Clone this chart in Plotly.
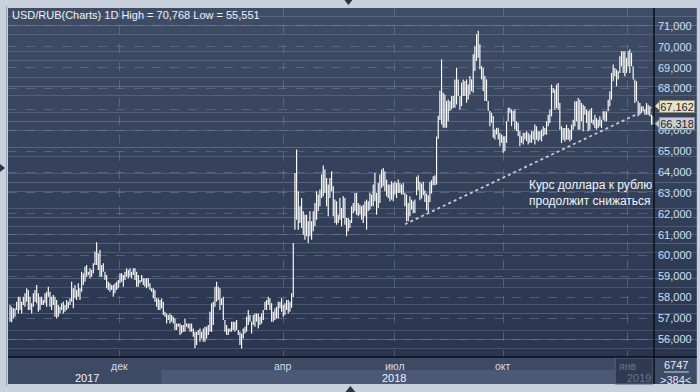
import plotly.graph_objects as go

# ---------------- data ----------------
high = [
    57.63,57.55,57.47,57.47,57.79,58.03,58.03,57.79,58.03,58.19,
    58.43,58.35,58.03,57.71,58.19,58.35,58.59,58.19,58.03,58.03,
    57.87,58.19,58.27,58.51,58.27,58.03,58.11,58.03,57.87,57.63,
    57.55,57.71,57.79,57.63,57.87,57.79,57.95,58.75,58.43,58.59,
    58.35,58.67,58.43,59.23,59.15,59.47,59.55,59.23,59.39,59.31,
    59.63,60.19,60.64,60.11,60.27,59.55,59.63,59.23,59.07,58.75,
    58.67,58.59,58.59,58.67,58.75,58.83,59.15,59.15,59.07,59.23,
    59.39,59.31,59.39,59.23,59.39,
    59.39,59.23,59.07,58.83,59.07,58.91,58.91,58.91,58.91,58.67,
    58.43,58.43,58.35,57.95,57.95,57.87,57.95,57.79,57.31,57.23,
    57.15,57.23,57.15,57.07,56.99,56.75,56.75,56.75,56.67,56.67,
    56.99,56.75,56.75,56.75,56.75,56.51,56.35,56.35,56.43,56.51,
    56.35,56.51,56.59,56.59,56.67,57.31,57.71,57.79,58.51,58.75,
    58.51,58.43,57.95,58.03,56.91,56.67,56.51,56.51,56.83,56.83,
    56.83,56.91,56.43,56.35,56.27,56.51,56.59,57.07,57.39,57.15,
    56.83,57.15,57.23,57.23,57.23,57.07,57.23,57.39,57.79,57.87,
    58.03,57.95,57.71,57.31,57.47,57.55,57.79,57.79,57.95,57.63,
    57.71,57.87,57.87,57.79,58.20,60.60,
    63.96,65.08,63.08,62.36,62.76,62.12,61.96,61.96,61.64,62.12,
    61.64,62.12,62.52,63.08,62.92,63.16,63.88,64.31,64.12,63.72,
    63.40,63.72,64.04,63.32,62.68,62.60,61.96,62.76,62.28,62.84,
    62.76,61.80,61.80,61.72,62.36,62.52,63.00,63.00,62.52,62.44,
    62.36,62.44,62.60,62.68,62.60,63.00,62.92,63.40,63.96,63.00,
    63.48,63.88,64.12,64.20,64.04,63.64,63.40,63.40,63.56,63.48,
    63.56,63.48,63.64,63.48,63.40,63.48,63.00,62.92,62.52,62.84,
    62.68,62.60,62.68,
    63.77,63.85,63.53,63.45,63.53,63.13,62.97,62.89,63.53,63.61,
    63.80,63.85,65.70,66.70,67.90,
    69.40,67.80,67.72,67.40,67.48,67.40,67.64,67.64,68.44,69.00,
    68.44,67.64,68.28,68.44,68.36,68.44,68.20,68.60,68.44,69.64,
    70.04,70.60,70.77,70.12,69.08,69.00,68.60,68.44,67.40,66.92,
    66.84,66.68,66.04,66.12,66.12,65.88,65.80,65.72,65.72,66.44,
    67.08,67.08,67.00,66.92,67.00,66.44,66.36,65.96,65.72,65.88,
    65.88,65.96,65.88,65.80,65.96,65.96,66.28,
    66.19,65.95,65.95,66.03,66.19,66.11,66.43,66.75,66.99,68.19,
    68.03,67.95,68.19,68.27,67.31,66.19,66.11,66.11,66.27,66.11,
    66.03,66.27,66.51,67.39,67.39,67.55,67.47,67.31,67.23,67.15,
    66.99,66.91,66.99,67.07,66.51,66.75,66.59,66.51,66.67,66.51,
    66.91,66.91,66.91,67.47,67.87,68.75,69.15,68.99,68.91,68.83,
    69.55,69.79,69.79,69.79,69.47,69.79,69.87,69.71,69.07,68.43,
    68.35,67.39,67.31,67.15,67.15,66.99,67.31,67.23,67.15,66.75,66.67,
]
low = [
    56.83,56.80,56.99,57.07,57.39,57.23,57.39,57.23,57.63,57.55,
    57.79,57.39,57.39,57.23,57.55,57.79,57.71,57.31,57.39,57.63,
    57.63,57.71,57.55,58.03,57.55,57.39,57.63,57.07,56.99,57.07,
    57.23,57.39,57.23,57.31,57.39,57.47,57.63,57.79,57.47,57.95,
    57.87,58.03,57.87,58.27,58.59,58.75,58.99,59.07,58.91,58.99,
    59.15,59.55,59.55,59.31,58.99,58.99,59.23,58.83,58.43,58.35,
    58.27,58.35,58.03,58.19,58.35,58.43,58.67,58.75,58.51,58.83,
    58.99,58.91,58.99,58.91,59.07,
    58.83,58.51,58.51,58.67,58.75,58.59,58.51,58.43,58.51,58.35,
    58.27,57.95,57.79,57.55,57.39,57.39,57.47,57.15,57.07,56.75,
    56.91,56.75,56.83,56.75,56.43,56.43,56.59,56.19,56.27,56.35,
    56.35,56.59,56.51,56.35,56.35,56.11,55.56,55.71,56.19,55.87,
    56.03,55.87,55.87,56.03,56.19,56.35,56.35,56.67,57.55,57.79,
    57.87,57.39,57.63,56.91,56.35,56.19,56.19,56.35,56.35,56.43,
    56.35,56.43,56.19,55.71,55.55,56.03,56.27,56.35,56.67,56.83,
    56.27,56.67,56.59,56.83,56.51,56.67,56.75,56.91,57.39,57.39,
    57.63,57.39,56.83,56.83,56.91,56.99,56.99,57.47,57.31,57.07,
    57.15,57.39,57.23,57.31,57.50,58.00,
    61.24,61.72,61.24,61.56,61.32,61.00,60.76,60.92,60.60,60.92,
    60.76,61.16,61.40,61.72,62.12,62.36,62.76,62.84,63.00,62.36,
    61.88,62.76,63.08,61.88,61.56,61.48,61.56,61.72,61.40,61.80,
    61.48,60.92,61.16,61.32,61.56,62.04,62.12,61.96,61.88,61.96,
    61.72,61.56,61.88,61.24,62.12,62.20,62.36,62.36,62.60,61.96,
    62.28,62.52,63.24,63.32,63.08,62.84,62.76,62.60,62.68,62.60,
    62.92,62.76,63.00,63.00,62.92,62.92,62.36,61.64,61.64,61.88,
    62.20,62.04,62.04,
    62.89,63.13,62.65,62.73,62.89,62.57,62.17,62.09,62.57,62.97,
    63.37,63.37,63.40,65.60,66.50,
    66.28,66.12,66.12,66.12,66.44,66.92,67.00,67.08,67.08,67.24,
    67.64,67.00,67.16,67.64,67.64,67.32,67.48,67.72,67.88,67.80,
    68.84,69.32,69.48,68.92,68.44,67.88,67.40,67.40,66.92,66.20,
    66.36,65.64,65.56,65.80,65.56,65.24,65.40,64.92,65.00,65.40,
    66.44,66.84,66.20,66.44,66.04,65.96,65.72,65.24,65.40,65.32,
    65.56,65.48,65.32,65.40,65.40,65.56,65.32,
    65.55,65.47,65.55,65.47,65.71,65.79,65.79,66.19,66.35,66.67,
    67.79,66.99,67.07,66.99,66.03,65.39,65.55,65.47,65.55,65.55,
    65.47,65.55,66.03,66.19,66.43,66.03,66.03,66.43,65.95,66.75,
    66.35,65.95,66.03,66.35,66.27,66.11,66.03,66.11,66.19,66.11,
    66.51,66.43,66.43,66.91,67.15,67.47,68.35,68.59,68.11,68.43,
    68.75,69.07,68.75,68.59,68.75,69.07,68.75,69.07,68.43,67.31,
    67.39,66.67,66.75,66.83,66.91,66.75,66.75,66.75,66.67,66.27,66.27,
]
bar_index = list(range(len(high)))

month_labels = ["дек", "апр", "июл", "окт", "янв"]
month_pos = [66.0, 164.0, 231.0, 296.0, 370.4]
year_labels = ["2017", "2018", "2019"]
year_pos = [46.0, 230.6, 377.5]

y_ticks = [56, 57, 58, 59, 60, 61, 62, 63, 64, 65, 66, 67, 68, 69, 70, 71]
# the 67,000 label sits fully under the 67,162 price box in the reference
y_ticktext = ["" if v == 67 else "%d,000" % v for v in y_ticks]

trend_x = [237.0, 386.5]
trend_y = [61.5, 67.162]

last_trend_value = 67.162
last_close_value = 66.318

title_text = "USD/RUB(Charts) 1D High = 70,768 Low = 55,551"
note_text = "Курс доллара к рублю<br>продолжит снижаться"
bar_count_text = "6747"
bar_range_text = "&gt;384&lt;"

# ---------------- layout helpers ----------------
W, H = 700, 392
ML, MR, MT, MB = 8, 43, 8, 35
PW, PH = W - ML - MR, H - MT - MB
Y_RANGE = [55.14, 71.86]
X_RANGE = [-1.2, 386.5]
FONT = "Liberation Sans, Arial, sans-serif"


def px(x):
    return (x - ML) / PW


def py(y):
    return (H - MB - y) / PH


shapes = []
top_c = (63, 76, 102)
bot_c = (42, 54, 80)
N = 40
for i in range(N):
    t = i / (N - 1)
    c = tuple(round(top_c[j] + (bot_c[j] - top_c[j]) * t) for j in range(3))
    y1 = 1 - i / N
    y0 = 1 - (i + 1) / N
    shapes.append(dict(type="rect", xref="paper", yref="paper", x0=0, x1=px(W),
                       y0=y0, y1=y1, fillcolor="rgb(%d,%d,%d)" % c,
                       line=dict(width=0), layer="below"))
shapes.append(dict(type="rect", xref="paper", yref="paper", x0=0, x1=px(W),
                   y0=py(384), y1=py(357), fillcolor="#3d4a64", line=dict(width=0), layer="below"))
shapes.append(dict(type="rect", xref="paper", yref="paper", x0=px(162), x1=px(618),
                   y0=py(384), y1=py(370), fillcolor="#4b5976", line=dict(width=0), layer="below"))
shapes.append(dict(type="rect", xref="paper", yref="paper", x0=px(618), x1=px(656),
                   y0=py(384), y1=py(358), fillcolor="#2f3a52",
                   line=dict(color="#56647e", width=1), layer="below"))
shapes.append(dict(type="line", xref="paper", yref="paper", x0=0, x1=px(W), y0=0, y1=0,
                   line=dict(color="#0c0f16", width=1.5), layer="above"))
shapes.append(dict(type="line", xref="paper", yref="paper", x0=1, x1=1, y0=py(384), y1=1,
                   line=dict(color="#0c0f16", width=1.5), layer="above"))
shapes.append(dict(type="line", xref="paper", yref="paper", x0=px(667), x1=px(692),
                   y0=py(372), y1=py(372), line=dict(color="#c8d2e0", width=1), layer="above"))


def tri(pts):
    d = "M %f,%f L %f,%f L %f,%f Z" % tuple(v for p in pts for v in (px(p[0]), py(p[1])))
    return dict(type="path", xref="paper", yref="paper", path=d, fillcolor="#2a3344",
                line=dict(width=0), layer="above")


shapes.append(tri([(346, 0), (354, 0), (350, 5)]))
shapes.append(tri([(0, 164), (0, 172), (5, 168)]))
shapes.append(tri([(347, 392), (357, 392), (352, 386)]))
shapes.append(dict(type="line", xref="paper", yref="paper", x0=px(6.5), x1=px(6.5), y0=py(386), y1=py(6),
                   line=dict(color="#9aa4b2", width=1), layer="below"))


def pointer(val, fill, edge):
    h = 5.5 / (PH / (Y_RANGE[1] - Y_RANGE[0]))
    d = "M %f,%f L %f,%f L %f,%f Z" % (px(658), val, px(663.5), val + h, px(663.5), val - h)
    return dict(type="path", xref="paper", yref="y", path=d, fillcolor=fill,
                line=dict(color=edge, width=1), layer="above")


shapes.append(pointer(last_close_value, "#c9cdd3", "#8a909a"))
shapes.append(pointer(last_trend_value, "#e6e2c6", "#908e7c"))

annotations = []
annotations.append(dict(text=title_text, xref="paper", yref="paper", x=px(10), y=py(15),
                        xanchor="left", yanchor="middle", showarrow=False,
                        font=dict(family=FONT, size=11, color="#eef2f8")))
annotations.append(dict(text=note_text, xref="paper", yref="paper", x=px(529), y=py(193.5),
                        xanchor="left", yanchor="middle", align="left", showarrow=False,
                        font=dict(family=FONT, size=12, color="#f2f4f8")))
for lab, pos in zip(month_labels, month_pos):
    col = "#66758f" if lab == "янв" else "#d3dceb"
    annotations.append(dict(text=lab, xref="x", yref="paper", x=pos, y=py(365.5),
                            xanchor="center", yanchor="middle", showarrow=False,
                            font=dict(family=FONT, size=10.5, color=col)))
for lab, pos in zip(year_labels, year_pos):
    col = "#66758f" if lab == "2019" else "#eef2f8"
    annotations.append(dict(text=lab, xref="x", yref="paper", x=pos, y=py(378),
                            xanchor="center", yanchor="middle", showarrow=False,
                            font=dict(family=FONT, size=11, color=col)))
annotations.append(dict(text=bar_count_text, xref="paper", yref="paper", x=px(679), y=py(365),
                        xanchor="center", yanchor="middle", showarrow=False,
                        font=dict(family=FONT, size=11, color="#e6ecf4")))
annotations.append(dict(text=bar_range_text, xref="paper", yref="paper", x=px(679), y=py(380),
                        xanchor="center", yanchor="middle", showarrow=False,
                        font=dict(family=FONT, size=11, color="#e6ecf4")))
for val, fill, edge in ((last_close_value, "#c9cdd3", "#8a909a"),
                        (last_trend_value, "#e6e2c6", "#908e7c")):
    annotations.append(dict(text=("%.3f" % val).replace(".", ","), xref="paper", yref="y",
                            x=px(662.5), y=val, xanchor="left", yanchor="middle", showarrow=False,
                            width=33, height=10, align="center", borderpad=0.5,
                            bgcolor=fill, bordercolor=edge, borderwidth=1,
                            font=dict(family=FONT, size=11, color="#1c1f26")))

# high-low bars drawn as thin vertical segments
seg_x, seg_y = [], []
for k, h, l in zip(bar_index, high, low):
    seg_x += [k, k, None]
    seg_y += [l, h, None]

fig = go.Figure()
fig.add_trace(go.Scatter(
    x=seg_x, y=seg_y, mode="lines", hoverinfo="skip", showlegend=False,
    line=dict(color="#ffffff", width=1.15)))
fig.add_trace(go.Scatter(
    x=trend_x, y=trend_y, mode="lines", hoverinfo="skip", showlegend=False,
    line=dict(color="#c3cad6", width=1.8, dash="dot")))

grid_col = "rgba(120,140,175,0.45)"
fig.update_layout(
    width=W, height=H,
    margin=dict(l=ML, r=MR, t=MT, b=MB),
    paper_bgcolor="#c8d0db",
    plot_bgcolor="rgba(0,0,0,0)",
    shapes=shapes, annotations=annotations,
    showlegend=False,
    xaxis=dict(range=X_RANGE, tickvals=month_pos, showticklabels=False, ticks="",
               showgrid=True, gridcolor=grid_col, griddash="dash", gridwidth=1,
               zeroline=False, showline=False, fixedrange=True),
    yaxis=dict(range=Y_RANGE, side="right", tickvals=y_ticks, ticktext=y_ticktext,
               ticks="", ticklabelstandoff=3,
               tickfont=dict(family=FONT, size=11, color="#cfe0f6"),
               showgrid=True, gridcolor=grid_col, griddash="dash", gridwidth=1,
               zeroline=False, showline=False, fixedrange=True),
)

fig.write_html("out.html")
